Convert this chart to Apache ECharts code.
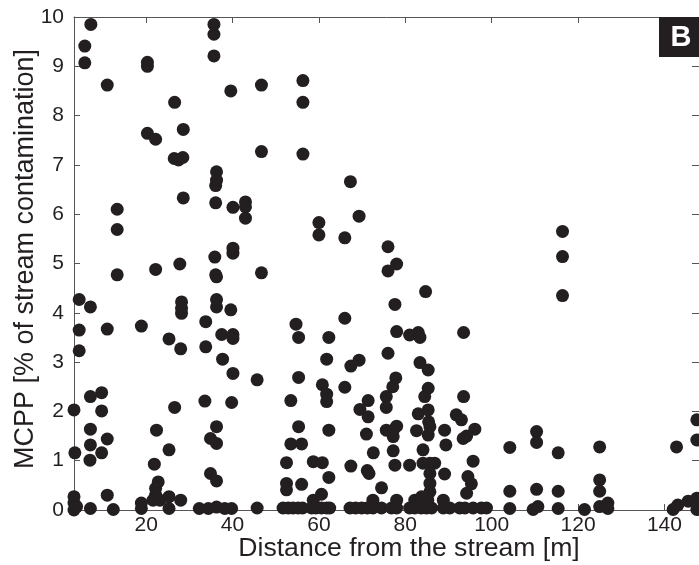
<!DOCTYPE html>
<html>
<head>
<meta charset="utf-8">
<script src="https://cdn.jsdelivr.net/npm/echarts@6/dist/echarts.min.js"></script>
<style>
html,body{margin:0;padding:0;background:#fff;}
#chart{width:699px;height:565px;}
</style>
</head>
<body>
<div id="chart"></div>
<script>
// Distance from the stream [m]
var distance = [
 7.2,5.8,5.8,11.0,20.3,20.3,26.6,20.3,22.2,28.6,26.5,27.5,28.5,28.6,13.3,13.3,13.3,22.2,27.8,35.7,35.7,35.7,39.6,36.3,36.3,36.1,36.1,40.1,35.9,36.1,40.1,40.1,
 46.7,56.3,56.3,46.7,56.3,67.3,43.0,43.0,43.0,60.0,60.0,66.0,69.3,76.0,78.0,76.0,46.7,
 116.4,116.4,116.4,93.5,93.5,91.8,93.0,96.1,94.2,93.4,95.7,94.5,95.3,94.2,104.2,104.2,104.2,110.4,110.4,110.4,109.6,110.7,115.4,115.4,115.4,121.5,125.0,125.0,125.0,125.0,126.9,126.9,142.8,142.0,143.1,145.5,147.5,147.5,147.5,147.5,
 4.5,4.5,4.5,7.1,11.0,18.9,28.2,28.2,28.2,25.3,28.0,3.3,7.1,9.7,9.7,7.1,7.1,7.0,11.0,9.7,3.5,11.0,26.6,22.4,25.3,21.9,22.8,22.2,22.2,21.6,23.2,25.3,25.3,28.0,18.9,18.9,3.3,3.3,3.3,3.9,7.1,12.4,32.3,34.4,36.3,38.2,39.8,33.8,33.8,36.3,36.3,39.6,37.5,40.1,40.1,37.7,40.1,33.6,39.8,36.3,34.9,36.3,34.9,36.3,36.3,
 84.7,77.6,54.7,55.3,62.3,66.0,78.0,81.0,83.0,83.4,61.8,55.3,45.7,67.4,69.3,66.0,76.0,60.8,61.8,61.8,53.5,83.4,85.3,85.3,84.5,77.8,77.1,75.6,75.6,71.4,69.5,71.4,71.0,83.0,85.3,85.4,82.6,85.3,85.7,89.1,89.4,75.6,77.2,78.0,77.2,77.2,72.6,62.3,55.3,53.5,56.0,52.5,58.7,60.8,62.3,52.5,52.5,56.0,67.4,71.2,71.6,74.5,77.6,81.0,84.1,84.1,85.7,86.8,85.7,85.7,85.7,85.2,89.1,88.8,60.6,58.7,72.5,78.0,82.2,83.8,
 45.7,51.7,52.9,54.0,55.2,56.2,58.3,59.3,60.6,61.8,62.5,67.2,68.5,69.9,71.2,72.5,74.5,76.8,78.0,81.0,82.2,83.7,84.9,86.1,88.8,90.3,92.6,93.8,95.7,97.6,98.8
];
// MCPP [% of stream contamination]
var mcpp = [
 9.85,9.41,9.07,8.62,9.08,9.0,8.27,7.64,7.52,7.72,7.13,7.1,7.15,6.33,6.1,5.69,4.77,4.88,4.99,9.85,9.65,9.21,8.5,6.86,6.69,6.58,6.23,6.14,5.13,4.77,5.31,5.21,
 8.62,8.71,8.27,7.27,7.22,6.66,6.25,6.15,5.92,5.83,5.58,5.52,5.96,5.34,4.99,4.85,4.81,
 5.65,5.14,4.35,3.6,2.3,1.93,1.83,1.64,1.5,1.45,0.99,0.68,0.53,0.34,1.27,0.38,0.03,1.59,1.37,0.42,0.01,0.07,1.16,0.38,0.03,0.01,1.28,0.61,0.38,0.07,0.14,0.03,1.28,0.01,0.1,0.18,0.24,0.01,1.83,1.42,
 4.27,3.65,3.23,4.12,3.67,3.73,4.22,4.09,3.99,3.47,3.27,2.03,2.3,2.38,2.01,1.64,1.32,1.01,1.44,1.16,1.16,0.3,2.08,1.62,1.22,0.93,0.57,0.44,0.3,0.2,0.2,0.27,0.03,0.2,0.14,0.03,0.27,0.14,0.0,0.07,0.03,0.01,0.03,0.03,0.06,0.03,0.03,3.82,3.31,4.27,4.12,4.06,3.56,3.56,3.48,3.06,2.77,2.21,2.18,1.69,1.45,1.35,0.74,0.59,4.73,
 4.43,4.17,3.77,3.5,3.5,3.89,3.62,3.55,3.6,3.5,3.06,2.69,2.64,2.92,3.04,2.49,3.18,2.54,2.35,2.2,2.22,2.99,2.84,2.47,2.3,2.68,2.5,2.3,2.08,2.22,2.04,1.89,1.54,1.95,2.03,1.79,1.61,1.52,1.69,1.62,1.32,1.62,1.62,1.7,1.49,1.2,1.16,1.62,1.69,1.34,1.34,0.96,0.98,0.96,0.66,0.54,0.41,0.52,0.89,0.8,0.74,0.45,0.91,0.91,1.22,0.95,0.95,0.95,0.74,0.54,0.37,0.2,0.73,0.2,0.32,0.2,0.2,0.2,0.2,0.27,
 0.04,0.04,0.04,0.04,0.04,0.04,0.04,0.04,0.04,0.04,0.04,0.04,0.04,0.04,0.04,0.04,0.04,0.04,0.04,0.04,0.04,0.04,0.04,0.04,0.04,0.04,0.04,0.04,0.04,0.04,0.04
];
var xTicks = [20, 40, 60, 80, 100, 120, 140];
var xTitle = 'Distance from the stream [m]';
var yTitle = 'MCPP [% of stream contamination]';
var panelLabel = 'B';

var points = [];
for (var i = 0; i < Math.min(distance.length, mcpp.length); i++) {
  points.push([distance[i], mcpp[i]]);
}

var axisColor = '#555';
var textColor = '#231f20';
var fontFam = '"Liberation Sans", Arial, Helvetica, sans-serif';

var chart = echarts.init(document.getElementById('chart'), null, {renderer: 'canvas'});
chart.setOption({
  animation: false,
  backgroundColor: '#fff',
  grid: {left: 74, top: 17, right: 0, bottom: 55, containLabel: false},
  xAxis: [{
    type: 'value', min: 3.3, max: 148, position: 'bottom',
    axisLine: {show: true, lineStyle: {color: axisColor, width: 1}},
    axisTick: {show: true, inside: true, length: 6, customValues: xTicks, lineStyle: {color: axisColor}},
    axisLabel: {show: true, customValues: xTicks, margin: 5, color: textColor, fontSize: 21, fontFamily: fontFam},
    splitLine: {show: false}
  }, {
    type: 'value', min: 3.3, max: 148, position: 'top',
    axisLine: {show: true, onZero: false, lineStyle: {color: axisColor, width: 1}},
    axisTick: {show: true, inside: true, length: 6, customValues: xTicks, lineStyle: {color: axisColor}},
    axisLabel: {show: false},
    splitLine: {show: false}
  }],
  yAxis: [{
    type: 'value', min: 0, max: 10, interval: 1, position: 'left',
    axisLine: {show: true, lineStyle: {color: axisColor, width: 1}},
    axisTick: {show: true, inside: true, length: 6, lineStyle: {color: axisColor}},
    axisLabel: {show: true, margin: 10, color: textColor, fontSize: 21, fontFamily: fontFam},
    splitLine: {show: false}
  }, {
    type: 'value', min: 0, max: 10, interval: 1, position: 'right',
    axisLine: {show: true, onZero: false, lineStyle: {color: axisColor, width: 1}},
    axisTick: {show: true, inside: true, length: 7, lineStyle: {color: axisColor}},
    axisLabel: {show: false},
    splitLine: {show: false}
  }],
  graphic: [
    {type: 'text', style: {text: xTitle, fill: textColor, font: '26.6px ' + fontFam, textAlign: 'center', textVerticalAlign: 'middle'}, x: 409, y: 549},
    {type: 'text', style: {text: yTitle, fill: textColor, font: '27px ' + fontFam, textAlign: 'center', textVerticalAlign: 'middle'}, x: 26, y: 259, rotation: Math.PI / 2},
    {type: 'rect', shape: {x: 659, y: 17, width: 45, height: 40}, style: {fill: '#231f20'}, z: 10},
    {type: 'text', style: {text: panelLabel, fill: '#fff', font: 'bold 29px ' + fontFam, textAlign: 'center', textVerticalAlign: 'middle'}, x: 681, y: 38, z: 11}
  ],
  series: [{
    type: 'scatter',
    xAxisIndex: 0, yAxisIndex: 0,
    data: points,
    symbol: 'circle',
    symbolSize: 13,
    clip: false,
    itemStyle: {color: '#231f20', opacity: 1},
    emphasis: {disabled: true}
  }]
});
</script>
</body>
</html>
